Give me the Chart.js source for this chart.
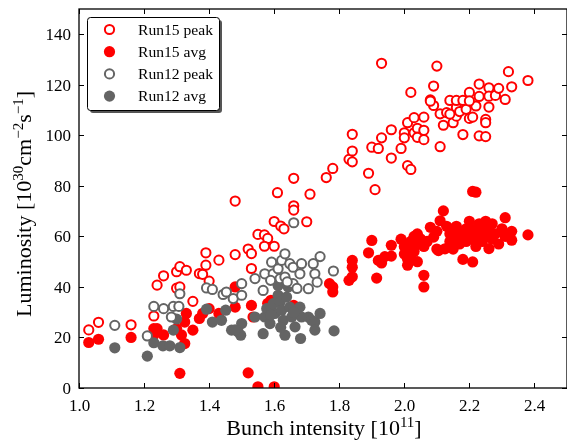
<!DOCTYPE html>
<html>
<head>
<meta charset="utf-8">
<script src="https://cdn.jsdelivr.net/npm/chart.js@4.4.1/dist/chart.umd.min.js"></script>
<style>
  html, body { margin: 0; padding: 0; background: #fff; }
  #wrap { width: 567px; height: 441px; }
</style>
</head>
<body>
<div id="wrap"><canvas id="chart" width="567" height="441"></canvas></div>
<script>
const FONT = '"Liberation Serif", "DejaVu Serif", serif';
const RED = '#ff0000';
const GRAY = '#646464';

const X_TICKS = [1.0, 1.2, 1.4, 1.6, 1.8, 2.0, 2.2, 2.4];
const Y_TICKS = [0, 20, 40, 60, 80, 100, 120, 140];
const LABELS = ['Run15 peak', 'Run15 avg', 'Run12 peak', 'Run12 avg'];

// [bunch intensity, luminosity]
const run15Peak = [
  [1.03,23],[1.06,26],[1.16,25],[1.23,28.5],[1.24,40.7],[1.26,44.4],[1.30,46],[1.31,48],
  [1.30,39.5],[1.31,40],[1.33,46.6],[1.35,34.3],[1.37,45.3],[1.38,45],[1.39,53.5],[1.39,48.6],
  [1.40,42.3],[1.43,50.6],[1.48,74],[1.48,52.8],[1.52,55],[1.53,53.2],[1.53,47.3],[1.55,60.8],
  [1.57,60.6],[1.58,59.2],[1.57,56.1],[1.60,56.1],[1.60,65.9],[1.61,77.3],[1.62,64.1],[1.63,63],
  [1.66,83],[1.66,72.1],[1.66,70.4],[1.70,65.8],[1.71,76.7],[1.76,83.3],[1.78,86.9],[1.83,90.5],
  [1.84,89.5],[1.84,93.8],[1.84,100.4],[1.89,85],[1.91,78.5],[1.90,95.3],[1.92,94.8],[1.93,99],
  [1.93,128.5],[1.96,91],[1.96,102.2],[1.99,94.8],[2.00,101],[2.00,99],[2.01,105],[2.01,88],
  [2.02,86.5],[2.02,117],[2.03,107],[2.03,101],[2.04,102.8],[2.04,99.2],[2.06,102],[2.06,107.2],
  [2.06,98.3],[2.08,114],[2.09,119.5],[2.09,111.8],[2.10,127.4],[2.11,108.5],[2.11,95.5],[2.08,113.5],
  [2.12,104],[2.13,109],[2.14,113.8],[2.15,105],[2.16,111],[2.16,113.8],[2.16,107.6],[2.17,109.4],
  [2.18,113.8],[2.18,100.3],[2.19,110.3],[2.20,117],[2.20,106.7],[2.21,107.2],[2.22,111.6],[2.23,120.3],
  [2.23,115.4],[2.23,99.8],[2.25,99.5],[2.25,106.3],[2.25,105],[2.26,118.8],[2.26,111.2],[2.26,115.5],
  [2.28,115.8],[2.29,118.6],[2.31,114.2],[2.32,125.2],[2.33,119.2],[2.38,121.7],[2.14,108.4],[2.20,113.6]
];

const run15Avg = [
  [1.03,18],[1.06,19.3],[1.16,20],[1.23,23.5],[1.24,23.5],[1.23,21],[1.26,21],[1.30,23.5],
  [1.315,21],[1.325,17.6],[1.33,29.5],[1.325,26.1],[1.31,5.8],[1.35,22.9],[1.37,27.5],[1.38,29.5],
  [1.40,31.4],[1.43,29.5],[1.48,40],[1.48,32],[1.52,6],[1.55,0.5],[1.60,0.5],[1.53,32.7],
  [1.535,28.1],[1.59,34.7],[1.66,32.7],[1.58,33.5],[1.77,41.3],[1.78,40],[1.78,38],[1.83,42.6],
  [1.84,44],[1.84,50.5],[1.84,47.8],[1.89,53.5],[1.90,58.4],[1.92,50.5],[1.915,43.5],[1.93,49.5],
  [1.94,52],[1.96,52.2],[1.96,56.5],[1.99,58.9],[2.00,56],[2.00,53],[2.01,48.6],[2.01,51],
  [2.02,55],[2.02,58],[2.03,60],[2.03,54],[2.04,57],[2.04,61],[2.05,59],[2.06,44.6],
  [2.06,40],[2.06,56],[2.07,58],[2.08,63.6],[2.09,59.7],[2.10,62],[2.11,66.2],[2.10,55],
  [2.105,54.4],[2.125,55.1],[2.12,70.1],[2.13,64],[2.14,61],[2.14,58],[2.15,63],[2.15,55],
  [2.16,60],[2.16,64],[2.17,62],[2.17,57],[2.18,50.9],[2.18,60],[2.19,63],[2.19,58],
  [2.20,61],[2.20,66],[2.21,49.9],[2.21,77.8],[2.22,77.5],[2.21,59],[2.22,63],[2.22,56],
  [2.23,60],[2.23,65],[2.24,62],[2.24,58],[2.25,66],[2.25,60],[2.26,55.2],[2.26,63],
  [2.27,59],[2.27,65],[2.28,61],[2.29,57],[2.30,63],[2.31,67.4],[2.31,60],[2.33,58.5],
  [2.33,62],[2.38,60.6],[2.01,57],[2.02,52],[2.04,50]
];

const run12Peak = [
  [1.11,24.8],[1.21,20.6],[1.23,32.3],[1.26,31.4],[1.284,28.1],[1.29,32.3],[1.31,37.3],[1.307,32.3],
  [1.392,39.6],[1.41,39],[1.443,37],[1.453,38],[1.474,35.4],[1.50,41.3],[1.50,36.7],[1.541,43.3],
  [1.571,45.2],[1.566,38.6],[1.592,49.8],[1.597,45.2],[1.612,47.2],[1.623,50.5],[1.633,53.1],[1.618,43.3],
  [1.648,49.2],[1.658,47.8],[1.633,43.9],[1.658,41.3],[1.684,49.2],[1.679,45.2],[1.705,39.3],[1.72,49.2],
  [1.741,52],[1.725,45.2],[1.732,41.9],[1.782,46.3],[1.589,42.6],[1.66,65.4],[1.67,39.4],[1.64,42]
];

const run12Avg = [
  [1.11,15.9],[1.21,12.6],[1.23,17.9],[1.258,16.7],[1.279,16.7],[1.31,16],[1.29,22.9],[1.30,27.3],
  [1.392,31.2],[1.41,26.1],[1.438,26.8],[1.451,30.8],[1.469,22.9],[1.489,22.2],[1.497,20.9],[1.50,25.5],
  [1.48,23],[1.541,28.1],[1.566,21.5],[1.571,28.1],[1.577,31.4],[1.587,25.5],[1.602,29.5],[1.597,33.4],
  [1.612,40.6],[1.612,36.7],[1.618,34],[1.623,30.8],[1.628,26.8],[1.633,20.9],[1.643,40],[1.638,36],
  [1.648,32],[1.654,28.1],[1.664,24.2],[1.679,32],[1.684,28.1],[1.681,19.6],[1.705,28.1],[1.715,26.8],
  [1.725,26.1],[1.741,29.5],[1.725,22.9],[1.784,22.6],[1.59,29],[1.62,24],[1.66,30]
];

const toPoints = (rows) => rows.map(([x, y]) => ({ x, y }));

// inward ticks on all four sides, tick labels and the frame
const frameTicks = {
  id: 'frameTicks',
  afterDatasetsDraw(chart) {
    const { ctx, chartArea: a, scales } = chart;
    ctx.save();
    ctx.strokeStyle = '#000';
    ctx.fillStyle = '#000';
    ctx.lineWidth = 1;
    ctx.font = `17px ${FONT}`;
    ctx.beginPath();
    ctx.textAlign = 'center';
    ctx.textBaseline = 'middle';
    for (const v of X_TICKS) {
      const px = Math.round(scales.x.getPixelForValue(v)) + 0.5;
      ctx.moveTo(px, a.bottom); ctx.lineTo(px, a.bottom - 5);
      ctx.moveTo(px, a.top); ctx.lineTo(px, a.top + 5);
      ctx.fillText(v.toFixed(1), px, a.bottom + 19);
    }
    ctx.textAlign = 'right';
    for (const v of Y_TICKS) {
      const py = Math.round(scales.y.getPixelForValue(v)) + 0.5;
      ctx.moveTo(a.left, py); ctx.lineTo(a.left + 5, py);
      ctx.moveTo(a.right, py); ctx.lineTo(a.right - 5, py);
      ctx.fillText(String(v), a.left - 8, py + 1);
    }
    ctx.stroke();
    ctx.lineWidth = 1.3;
    ctx.strokeRect(a.left, a.top, a.right - a.left, a.bottom - a.top);
    ctx.restore();
  }
};

const drawRich = (ctx, parts, size) => {
  const sup = Math.round(size * 0.7);
  let total = 0;
  for (const p of parts) {
    ctx.font = `${p.sup ? sup : size}px ${FONT}`;
    total += ctx.measureText(p.t).width;
  }
  let x = -total / 2;
  for (const p of parts) {
    ctx.font = `${p.sup ? sup : size}px ${FONT}`;
    ctx.fillText(p.t, x, p.sup ? -8 : 0);
    x += ctx.measureText(p.t).width;
  }
};

const axisTitles = {
  id: 'axisTitles',
  afterDraw(chart) {
    const { ctx } = chart;
    ctx.save();
    ctx.fillStyle = '#000';
    ctx.textBaseline = 'alphabetic';
    ctx.textAlign = 'left';
    ctx.save();
    ctx.translate(324, 435);
    drawRich(ctx, [{ t: 'Bunch intensity [10' }, { t: '11', sup: true }, { t: ']' }], 22);
    ctx.restore();
    ctx.save();
    ctx.translate(30.5, 204);
    ctx.rotate(-Math.PI / 2);
    drawRich(ctx, [
      { t: 'Luminosity [10' }, { t: '30', sup: true }, { t: 'cm' }, { t: '\u22122', sup: true },
      { t: 's' }, { t: '\u22121', sup: true }, { t: ']' }
    ], 22);
    ctx.restore();
    ctx.restore();
  }
};

const legendBox = {
  id: 'legendBox',
  afterDraw(chart) {
    const { ctx } = chart;
    const bx = 87, by = 17, bw = 132, bh = 93;
    ctx.save();
    ctx.fillStyle = '#555';
    ctx.beginPath();
    ctx.roundRect(bx + 3, by + 3, bw, bh, 3);
    ctx.fill();
    ctx.fillStyle = '#fff';
    ctx.strokeStyle = '#000';
    ctx.lineWidth = 1;
    ctx.beginPath();
    ctx.roundRect(bx + 0.5, by + 0.5, bw, bh, 3);
    ctx.fill();
    ctx.stroke();
    ctx.font = `15.6px ${FONT}`;
    ctx.textBaseline = 'middle';
    chart.data.datasets.forEach((ds, i) => {
      const cy = 29.5 + i * 22.2;
      ctx.beginPath();
      ctx.arc(109.5, cy, ds.pointRadius, 0, Math.PI * 2);
      ctx.fillStyle = ds.pointBackgroundColor;
      ctx.fill();
      if (ds.pointBorderWidth > 0) {
        ctx.lineWidth = ds.pointBorderWidth;
        ctx.strokeStyle = ds.pointBorderColor;
        ctx.stroke();
      }
      ctx.fillStyle = '#000';
      ctx.fillText(ds.label, 138, cy + 1);
    });
    ctx.restore();
  }
};

const openSet = (label, rows, color, order) => ({
  label, data: toPoints(rows), order,
  pointRadius: 4.6, pointBorderWidth: 2,
  pointBorderColor: color, pointBackgroundColor: '#fff',
  pointHoverRadius: 4.6, showLine: false
});
const filledSet = (label, rows, color, order) => ({
  label, data: toPoints(rows), order,
  pointRadius: 5.6, pointBorderWidth: 0,
  pointBorderColor: color, pointBackgroundColor: color,
  pointHoverRadius: 5.6, showLine: false
});

new Chart(document.getElementById('chart'), {
  type: 'scatter',
  data: {
    datasets: [
      openSet(LABELS[0], run15Peak, RED, 2),
      filledSet(LABELS[1], run15Avg, RED, 3),
      openSet(LABELS[2], run12Peak, GRAY, 0),
      filledSet(LABELS[3], run12Avg, GRAY, 1)
    ]
  },
  options: {
    responsive: false,
    animation: false,
    events: [],
    // plot box runs just past the right edge, as in the original figure
    layout: { autoPadding: false, padding: { top: 9, right: -2, left: 0, bottom: 0 } },
    plugins: { legend: { display: false }, tooltip: { enabled: false } },
    scales: {
      x: {
        type: 'linear', min: 1.0, max: 2.5,
        grid: { display: false, drawTicks: false },
        border: { display: false },
        ticks: { display: false, stepSize: 0.2 },
        afterFit: (s) => { s.height = 53; }
      },
      y: {
        type: 'linear', min: 0, max: 150,
        grid: { display: false, drawTicks: false },
        border: { display: false },
        ticks: { display: false, stepSize: 20 },
        afterFit: (s) => { s.width = 79; }
      }
    }
  },
  plugins: [frameTicks, axisTitles, legendBox]
});
</script>
</body>
</html>
